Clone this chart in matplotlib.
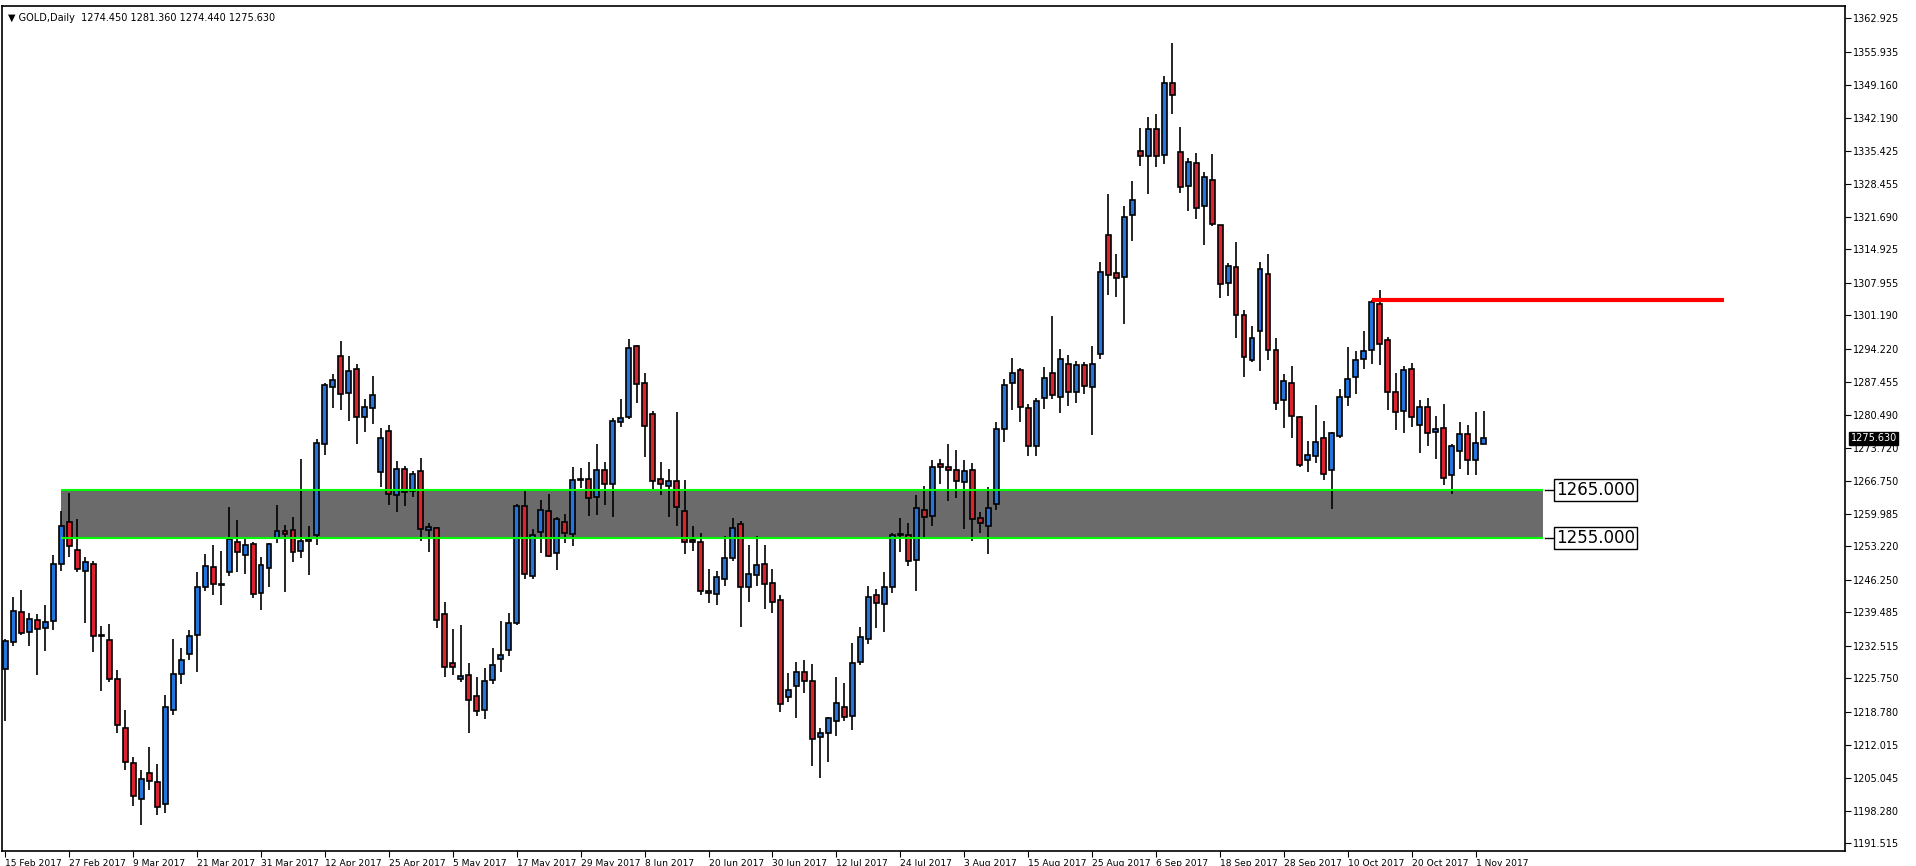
import numpy as np
import matplotlib
matplotlib.use("Agg")
import matplotlib.pyplot as plt
from matplotlib.patches import Rectangle

# GOLD daily candles, 15 Feb 2017 .. 2 Nov 2017
opens = [1227.7, 1233.3, 1239.5, 1235.4, 1237.9, 1236.2, 1237.7, 1249.5, 1258.2, 1252.4,
         1248.1, 1249.5, 1234.6, 1233.7, 1225.6, 1215.5, 1208.2, 1200.7, 1206.1, 1204.2,
         1199.6, 1219.3, 1226.6, 1230.8, 1234.8, 1244.7, 1248.9, 1245.2, 1247.8, 1254.1,
         1251.4, 1253.7, 1243.5, 1248.7, 1254.9, 1256.4, 1256.6, 1252.2, 1254.3, 1255.5,
         1274.4, 1286.3, 1292.7, 1285.0, 1290.0, 1280.0, 1281.9, 1268.6, 1277.1, 1263.8,
         1269.2, 1264.7, 1268.8, 1256.6, 1257.0, 1239.1, 1228.9, 1225.6, 1226.5, 1222.1,
         1219.2, 1225.4, 1229.8, 1231.6, 1237.2, 1261.6, 1247.0, 1256.2, 1260.5, 1251.8,
         1258.2, 1255.7, 1267.0, 1267.2, 1263.4, 1269.0, 1266.1, 1279.0, 1280.0, 1294.8,
         1287.1, 1280.7, 1267.2, 1265.7, 1266.8, 1260.5, 1254.5, 1254.1, 1243.9, 1243.3,
         1246.4, 1250.7, 1257.8, 1244.7, 1247.3, 1249.5, 1245.6, 1242.0, 1221.9, 1224.2,
         1227.1, 1225.2, 1213.6, 1214.4, 1216.9, 1219.8, 1218.0, 1229.2, 1234.0, 1243.1,
         1241.2, 1244.7, 1255.5, 1255.5, 1250.3, 1260.7, 1259.5, 1270.3, 1269.7, 1269.0,
         1266.5, 1269.0, 1259.1, 1257.4, 1262.0, 1277.6, 1287.1, 1289.8, 1281.9, 1274.0,
         1284.0, 1289.2, 1284.2, 1291.1, 1285.2, 1290.8, 1286.3, 1293.1, 1317.9, 1310.0,
         1309.1, 1322.0, 1335.3, 1334.3, 1339.9, 1334.5, 1349.5, 1335.1, 1328.0, 1332.8,
         1323.9, 1329.3, 1319.9, 1307.9, 1311.2, 1301.2, 1291.9, 1297.9, 1309.9, 1294.0,
         1283.6, 1287.1, 1280.0, 1271.1, 1271.9, 1275.7, 1269.0, 1276.1, 1284.2, 1288.3,
         1292.1, 1294.0, 1303.5, 1296.0, 1285.2, 1281.3, 1290.0, 1278.4, 1282.1, 1276.9,
         1277.8, 1268.0, 1273.0, 1276.5, 1271.1, 1274.45]
highs = [1234.0, 1242.7, 1244.2, 1239.3, 1239.2, 1241.1, 1251.5, 1260.6, 1264.3, 1258.9,
         1251.0, 1250.1, 1236.7, 1237.1, 1227.6, 1219.1, 1209.5, 1206.8, 1211.6, 1208.0,
         1222.4, 1234.0, 1232.1, 1235.9, 1247.9, 1251.6, 1253.5, 1252.3, 1261.4, 1258.7,
         1254.9, 1254.1, 1251.0, 1254.0, 1261.8, 1257.7, 1259.3, 1271.3, 1257.5, 1275.6,
         1287.1, 1289.0, 1295.9, 1292.8, 1291.1, 1283.8, 1288.6, 1277.8, 1278.4, 1270.9,
         1269.9, 1268.8, 1271.5, 1258.0, 1257.2, 1241.6, 1236.1, 1236.8, 1229.0, 1226.1,
         1228.0, 1232.1, 1237.7, 1239.3, 1262.0, 1265.2, 1256.8, 1262.9, 1264.1, 1259.3,
         1260.0, 1269.7, 1269.5, 1270.8, 1274.5, 1270.8, 1279.8, 1283.9, 1296.3, 1295.0,
         1289.3, 1281.4, 1270.8, 1269.3, 1281.1, 1267.0, 1257.5, 1256.0, 1248.5, 1248.1,
         1255.3, 1259.1, 1258.4, 1253.5, 1255.3, 1253.5, 1248.5, 1243.1, 1226.9, 1229.2,
         1229.6, 1228.8, 1215.5, 1217.7, 1226.1, 1224.9, 1233.2, 1236.5, 1245.0, 1244.3,
         1247.9, 1255.9, 1259.1, 1258.0, 1263.9, 1265.8, 1271.2, 1271.4, 1274.5, 1273.3,
         1271.2, 1270.5, 1260.4, 1265.6, 1279.0, 1288.0, 1292.4, 1290.2, 1282.8, 1284.0,
         1290.4, 1301.0, 1294.2, 1292.9, 1291.7, 1291.5, 1294.8, 1312.2, 1326.4, 1313.9,
         1323.9, 1329.1, 1340.1, 1342.5, 1343.0, 1351.0, 1357.8, 1340.3, 1334.0, 1334.9,
         1330.9, 1334.7, 1320.0, 1312.0, 1316.4, 1302.3, 1299.0, 1312.4, 1314.0, 1296.5,
         1289.0, 1290.7, 1280.4, 1275.1, 1282.6, 1279.3, 1277.0, 1285.9, 1294.6, 1293.8,
         1298.0, 1304.4, 1306.5, 1296.7, 1289.3, 1290.7, 1291.3, 1283.6, 1284.1, 1280.3,
         1282.8, 1274.5, 1279.1, 1278.4, 1281.2, 1281.36]
lows = [1217.0, 1232.4, 1234.7, 1232.4, 1226.4, 1231.4, 1235.9, 1248.0, 1251.1, 1247.8,
        1237.3, 1231.2, 1223.1, 1225.1, 1214.4, 1206.8, 1199.3, 1195.2, 1202.6, 1197.4,
        1197.7, 1218.2, 1224.7, 1229.6, 1227.1, 1244.0, 1243.0, 1241.1, 1247.0, 1247.8,
        1247.4, 1242.5, 1239.9, 1244.7, 1254.0, 1243.8, 1250.0, 1250.7, 1247.2, 1253.4,
        1272.1, 1282.0, 1281.6, 1279.2, 1274.4, 1276.9, 1278.7, 1265.6, 1261.9, 1260.3,
        1261.5, 1263.4, 1254.4, 1252.1, 1236.2, 1226.0, 1226.4, 1225.1, 1214.5, 1217.9,
        1217.3, 1224.7, 1227.2, 1230.5, 1236.8, 1246.4, 1246.5, 1251.9, 1251.0, 1248.2,
        1254.0, 1253.3, 1265.3, 1259.6, 1259.8, 1261.7, 1259.4, 1278.1, 1279.7, 1282.9,
        1271.7, 1264.8, 1263.8, 1259.4, 1257.5, 1251.7, 1252.2, 1243.2, 1241.5, 1241.1,
        1245.0, 1250.1, 1236.4, 1241.6, 1245.0, 1240.1, 1239.3, 1218.7, 1220.9, 1217.5,
        1222.7, 1207.5, 1205.1, 1208.3, 1213.7, 1216.9, 1215.0, 1228.5, 1233.0, 1236.2,
        1235.5, 1243.6, 1252.1, 1249.2, 1244.0, 1254.8, 1257.5, 1266.1, 1262.7, 1263.2,
        1256.9, 1254.4, 1255.9, 1251.7, 1260.7, 1274.9, 1281.5, 1279.0, 1272.0, 1272.0,
        1281.7, 1283.8, 1280.9, 1282.3, 1283.0, 1284.8, 1276.3, 1292.1, 1305.4, 1305.1,
        1299.5, 1316.7, 1332.2, 1326.4, 1332.0, 1332.7, 1343.0, 1326.6, 1322.8, 1321.2,
        1315.8, 1319.7, 1304.9, 1305.3, 1296.5, 1288.3, 1291.5, 1289.7, 1292.0, 1281.6,
        1277.9, 1275.8, 1269.8, 1268.6, 1270.6, 1266.9, 1260.9, 1275.7, 1282.3, 1284.8,
        1290.0, 1291.1, 1290.8, 1281.6, 1277.3, 1276.7, 1278.1, 1272.7, 1274.0, 1271.3,
        1265.9, 1264.0, 1269.2, 1268.0, 1268.1, 1274.44]
closes = [1233.6, 1239.8, 1235.2, 1238.1, 1236.0, 1237.5, 1249.5, 1257.4, 1253.3, 1248.5,
          1249.9, 1234.6, 1234.6, 1225.6, 1216.1, 1208.4, 1201.3, 1204.9, 1204.5, 1199.0,
          1219.8, 1226.7, 1229.6, 1234.6, 1244.7, 1249.1, 1245.4, 1245.2, 1254.8, 1252.0,
          1253.5, 1243.3, 1249.4, 1253.7, 1256.4, 1255.7, 1252.0, 1254.3, 1254.7, 1274.6,
          1286.7, 1287.7, 1284.8, 1289.6, 1280.0, 1282.1, 1284.6, 1275.7, 1264.0, 1269.2,
          1264.5, 1268.2, 1256.8, 1257.2, 1237.9, 1228.1, 1228.1, 1226.2, 1221.3, 1219.0,
          1225.2, 1228.5, 1230.6, 1237.2, 1261.6, 1247.4, 1255.5, 1260.7, 1251.3, 1258.9,
          1255.9, 1266.9, 1267.0, 1263.2, 1269.0, 1266.1, 1279.3, 1279.8, 1294.4, 1287.0,
          1278.2, 1266.7, 1266.1, 1266.8, 1261.3, 1254.1, 1254.1, 1243.9, 1243.5, 1246.8,
          1250.7, 1257.0, 1244.7, 1247.4, 1249.3, 1245.4, 1241.6, 1220.4, 1223.3, 1227.1,
          1225.2, 1213.2, 1214.4, 1217.5, 1220.6, 1217.7, 1229.0, 1234.4, 1242.7, 1241.4,
          1244.7, 1255.5, 1255.5, 1250.1, 1261.1, 1259.3, 1269.7, 1269.7, 1269.0, 1266.8,
          1268.8, 1258.9, 1258.0, 1261.1, 1277.6, 1286.7, 1289.2, 1282.1, 1274.0, 1283.4,
          1288.1, 1284.6, 1292.1, 1285.2, 1290.8, 1286.5, 1291.1, 1310.2, 1309.7, 1308.9,
          1321.6, 1325.1, 1334.3, 1339.9, 1334.3, 1349.5, 1347.0, 1327.8, 1333.0, 1323.5,
          1329.9, 1320.3, 1307.7, 1311.4, 1301.2, 1292.5, 1296.5, 1310.8, 1294.0, 1283.0,
          1287.5, 1280.2, 1270.1, 1272.1, 1274.8, 1268.2, 1276.7, 1284.2, 1287.9, 1291.9,
          1293.8, 1304.0, 1295.2, 1285.2, 1281.1, 1289.8, 1280.0, 1282.1, 1276.7, 1277.6,
          1267.4, 1274.0, 1276.5, 1271.1, 1274.6, 1275.63]

date_labels = ["15 Feb 2017", "27 Feb 2017", "9 Mar 2017", "21 Mar 2017", "31 Mar 2017",
               "12 Apr 2017", "25 Apr 2017", "5 May 2017", "17 May 2017", "29 May 2017",
               "8 Jun 2017", "20 Jun 2017", "30 Jun 2017", "12 Jul 2017", "24 Jul 2017",
               "3 Aug 2017", "15 Aug 2017", "25 Aug 2017", "6 Sep 2017", "18 Sep 2017",
               "28 Sep 2017", "10 Oct 2017", "20 Oct 2017", "1 Nov 2017"]
price_ticks = [1362.925, 1355.935, 1349.160, 1342.190, 1335.425, 1328.455, 1321.690,
               1314.925, 1307.955, 1301.190, 1294.220, 1287.455, 1280.490, 1273.720,
               1266.750, 1259.985, 1253.220, 1246.250, 1239.485, 1232.515, 1225.750,
               1218.780, 1212.015, 1205.045, 1198.280, 1191.515]

zone_top, zone_bottom = 1265.0, 1255.0
resistance = 1304.4
last_price = 1275.630

W, H = 1916, 866
fig = plt.figure(figsize=(W / 100, H / 100), dpi=100)
ax = fig.add_axes([2 / W, 1 - 851 / H, 1843 / W, 845 / H])
ax.set_xlim(-0.41, 230.2)
ax.set_ylim(1189.9, 1365.5)

o = np.array(opens); hi = np.array(highs); lo = np.array(lows); c = np.array(closes)
x = np.arange(len(o))

# support zone
ax.add_patch(Rectangle((6.96, zone_bottom), 192.4 - 6.96, zone_top - zone_bottom,
                       facecolor="#6b6b6b", edgecolor="none", zorder=1))
ax.hlines([zone_top, zone_bottom], 6.96, 192.4, colors="#00ff00", lw=1.5, zorder=4)

# candles
ax.vlines(x, lo, hi, colors="black", lw=1.2, zorder=2)
up = c >= o
body = np.maximum(np.abs(c - o), 0.25)
ax.bar(x[up], body[up], bottom=o[up], width=0.62, color="#2475dc",
       edgecolor="black", linewidth=1.2, zorder=3)
ax.bar(x[~up], body[~up], bottom=c[~up], width=0.62, color="#dc2430",
       edgecolor="black", linewidth=1.2, zorder=3)

# resistance line from the October high
ax.hlines(resistance, 171, 215, colors="#ff0000", lw=3, zorder=5)

# zone labels
for lvl in (zone_top, zone_bottom):
    ax.plot([192.6, 193.8], [lvl, lvl], color="black", lw=1, zorder=5)
    ax.text(194.0, lvl, f"{lvl:.3f}", fontsize=12, va="center", ha="left",
            bbox=dict(boxstyle="square,pad=0.12", fc="white", ec="black", lw=1), zorder=6)

# axes styling
for s in ax.spines.values():
    s.set_linewidth(1.2)
ax.yaxis.tick_right()
ax.set_yticks(price_ticks)
ax.set_yticklabels([f"{p:.3f}" for p in price_ticks])
ax.tick_params(axis="y", length=4, labelsize=7, pad=2)
ax.set_xticks(np.arange(len(date_labels)) * 8)
ax.set_xticklabels(date_labels, ha="left")
ax.tick_params(axis="x", length=4, labelsize=6.6, pad=2)

ax.text(1.0031, last_price, f"{last_price:.3f}", transform=ax.get_yaxis_transform(),
        fontsize=7, color="white", va="center", ha="left",
        bbox=dict(boxstyle="square,pad=0.15", fc="black", ec="black"), zorder=7,
        clip_on=False)

ax.text(0.003, 0.992, "\u25bc GOLD,Daily  1274.450 1281.360 1274.440 1275.630",
        transform=ax.transAxes, fontsize=7, va="top", ha="left")

fig.savefig("out.png", dpi=100)
